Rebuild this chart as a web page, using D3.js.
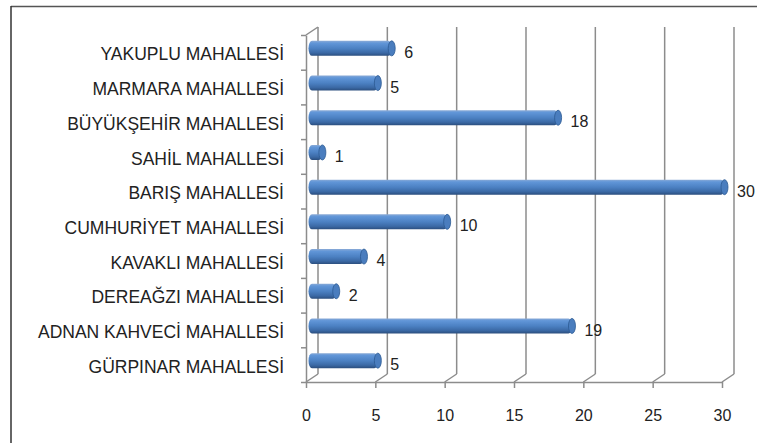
<!DOCTYPE html>
<html>
<head>
<meta charset="utf-8">
<script src="https://cdn.jsdelivr.net/npm/d3@7"></script>
<style>
  body { margin: 0; background: #fff; }
  text { font-family: "Liberation Sans Narrow", "Liberation Sans", Arial, sans-serif; fill: #222; }
</style>
</head>
<body>
<script>
// mahalle names, top to bottom as drawn
const categories = [
    "YAKUPLU MAHALLESİ", "MARMARA MAHALLESİ", "BÜYÜKŞEHİR MAHALLESİ", "SAHİL MAHALLESİ",
    "BARIŞ MAHALLESİ", "CUMHURİYET MAHALLESİ", "KAVAKLI MAHALLESİ", "DEREAĞZI MAHALLESİ",
    "ADNAN KAHVECİ MAHALLESİ", "GÜRPINAR MAHALLESİ"
]
const values = [6, 5, 18, 1, 30, 10, 4, 2, 19, 5]
const xTicks = [0, 5, 10, 15, 20, 25, 30]

const m = { width: 757, height: 443 }
const plot = { left: 306, right: 722, top: 35, bottom: 382 }
const depth = { dx: 12, dy: -8 }   // fake 3d offset of the back wall

const svg = d3.select("body").append("svg")
    .attr("width", m.width)
    .attr("height", m.height)

// outer frame (right and bottom fall outside the picture)
svg.append("line").attr("x1", 11).attr("x2", m.width).attr("y1", 6.5).attr("y2", 6.5)
    .attr("stroke", "#555").attr("stroke-width", 1.5)
svg.append("line").attr("x1", 11).attr("x2", 11).attr("y1", 6).attr("y2", m.height)
    .attr("stroke", "#333").attr("stroke-width", 1.5)

const x = d3.scaleLinear().domain([0, 30]).range([plot.left, plot.right])
const y = d3.scaleBand().domain(categories).range([plot.top, plot.bottom])

const defs = svg.append("defs")
const grad = defs.append("linearGradient").attr("id", "cyl")
    .attr("x1", 0).attr("x2", 0).attr("y1", 0).attr("y2", 1)
grad.append("stop").attr("offset", "0%").attr("stop-color", "#8aaad6")
grad.append("stop").attr("offset", "15%").attr("stop-color", "#6196d8")
grad.append("stop").attr("offset", "50%").attr("stop-color", "#4c81c3")
grad.append("stop").attr("offset", "80%").attr("stop-color", "#3b69a5")
grad.append("stop").attr("offset", "100%").attr("stop-color", "#2b4e7e")

const grid = svg.append("g").attr("stroke", "#8c8c8c").attr("stroke-width", 1.5).attr("fill", "none")

// back wall vertical gridlines
grid.selectAll(".vgrid")
    .data(xTicks)
    .enter()
    .append("line")
        .attr("x1", d => x(d) + depth.dx)
        .attr("x2", d => x(d) + depth.dx)
        .attr("y1", plot.top + depth.dy)
        .attr("y2", plot.bottom + depth.dy)

// floor diagonals
grid.selectAll(".fgrid")
    .data(xTicks)
    .enter()
    .append("line")
        .attr("x1", d => x(d))
        .attr("x2", d => x(d) + depth.dx)
        .attr("y1", plot.bottom)
        .attr("y2", plot.bottom + depth.dy)

// side wall top edge
grid.append("line")
    .attr("x1", plot.left).attr("x2", plot.left + depth.dx)
    .attr("y1", plot.top).attr("y2", plot.top + depth.dy)

// x axis on the floor front edge
const xAxis = svg.append("g")
    .attr("transform", `translate(0,${plot.bottom})`)
    .call(d3.axisBottom(x).tickValues(xTicks).tickSize(6).tickSizeOuter(0).tickPadding(22))
xAxis.select(".domain").attr("stroke", "#8c8c8c").attr("stroke-width", 1.5)
xAxis.selectAll(".tick line").attr("stroke", "#8c8c8c").attr("stroke-width", 1.5)
xAxis.selectAll(".tick text")
    .style("font-family", "'Liberation Sans', Arial, sans-serif")
    .attr("font-size", 16).attr("fill", "#222")

// left axis: ticks between the categories
const yEdges = d3.scaleLinear().domain([0, categories.length]).range([plot.bottom, plot.top])
const yAxis = svg.append("g")
    .attr("transform", `translate(${plot.left},0)`)
    .call(d3.axisLeft(yEdges).ticks(categories.length).tickSize(5).tickSizeOuter(0).tickFormat(""))
yAxis.select(".domain").attr("stroke", "#8c8c8c").attr("stroke-width", 1.5)
yAxis.selectAll(".tick line").attr("stroke", "#8c8c8c").attr("stroke-width", 1.5)

// category labels
svg.selectAll(".cat")
    .data(categories)
    .enter()
    .append("text")
        .attr("x", 284)
        .attr("y", d => y(d) + y.bandwidth() / 2 + 2)
        .attr("dy", "0.35em")
        .attr("text-anchor", "end")
        .attr("font-size", 17.5)
        .text(d => d)

// cylinders, sitting half way into the depth
const barH = 15
const rx = 3.5
const bars = svg.selectAll(".bar")
    .data(categories.map((c, i) => ({ c: c, v: values[i] })))
    .enter()
    .append("g")
        .attr("transform", d => `translate(0,${y(d.c) + y.bandwidth() / 2 + depth.dy / 2})`)

bars.append("rect")
    .attr("x", x(0) + depth.dx / 2 - rx)
    .attr("y", -barH / 2)
    .attr("width", d => x(d.v) - x(0))
    .attr("height", barH)
    .attr("rx", rx).attr("ry", barH / 2)
    .attr("fill", "url(#cyl)")

bars.append("ellipse")
    .attr("cx", d => x(d.v) + depth.dx / 2 - rx)
    .attr("cy", 0)
    .attr("rx", rx)
    .attr("ry", barH / 2)
    .attr("fill", "#4a7dbe")
    .attr("stroke", "#2c5a93")
    .attr("stroke-width", 0.8)

// value labels
bars.append("text")
    .attr("x", d => x(d.v) + depth.dx / 2 + 9)
    .attr("y", 4)
    .attr("dy", "0.35em")
    .attr("font-size", 16)
    .style("font-family", "'Liberation Sans', Arial, sans-serif")
    .text(d => d.v)
</script>
</body>
</html>
